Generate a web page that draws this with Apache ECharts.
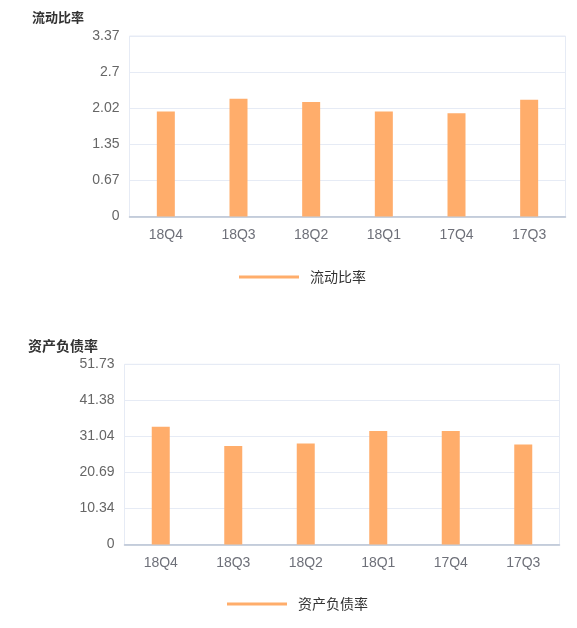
<!DOCTYPE html>
<html>
<head>
<meta charset="utf-8">
<script src="https://cdn.jsdelivr.net/npm/echarts@6/dist/echarts.min.js"></script>
<style>
html,body{margin:0;padding:0;background:#fff;}
#c{width:577px;height:628px;}
</style>
</head>
<body>
<div id="c"></div>
<script>
var categories = ['18Q4','18Q3','18Q2','18Q1','17Q4','17Q3'];
var currentRatio = [1.96, 2.20, 2.14, 1.96, 1.93, 2.18];
var debtRatio = [33.8, 28.3, 29.0, 32.6, 32.6, 28.7];
var yTicks1 = ['0','0.67','1.35','2.02','2.7','3.37'];
var yTicks2 = ['0','10.34','20.69','31.04','41.38','51.73'];
var max1 = 3.37, max2 = 51.73;
var name1 = '流动比率', name2 = '资产负债率';

var FONT = "Arial, 'Liberation Sans', 'Noto Sans CJK SC', sans-serif";
var CJK = "'Microsoft YaHei', 'Noto Sans CJK SC', sans-serif";
var barColor = '#ffad6b';

function yAxis(gi, max, ticks){
  var iv = max / 5;
  return {
    type:'value', gridIndex:gi, min:0, max:max, interval:iv,
    axisLine:{show:false}, axisTick:{show:false},
    splitLine:{lineStyle:{color:'#e6ebf5', width:1}},
    axisLabel:{color:'#666', fontSize:14, fontFamily:FONT, margin:10,
      formatter:function(v){ return ticks[Math.round(v/iv)]; }}
  };
}
function xAxis(gi){
  return {
    type:'category', gridIndex:gi, data:categories,
    axisLine:{lineStyle:{color:'#b8c2d2', width:1.5}},
    axisTick:{show:false},
    axisLabel:{color:'#6e7079', fontSize:14, fontFamily:FONT, margin:12}
  };
}
var chart = echarts.init(document.getElementById('c'));
chart.setOption({
  animation:false,
  title:[
    {text:name1, left:27, top:6, textStyle:{fontSize:13, fontWeight:'bold', color:'#333', fontFamily:CJK}},
    {text:name2, left:23, top:334, textStyle:{fontSize:14, fontWeight:'bold', color:'#333', fontFamily:CJK}}
  ],
  grid:[
    {left:129.5, top:36, width:436, height:180.5, show:true, borderColor:'#e6ebf5', borderWidth:1},
    {left:124.5, top:364.3, width:435, height:180.2, show:true, borderColor:'#e6ebf5', borderWidth:1}
  ],
  legend:[
    {data:[name1], left:234, top:265, icon:'rect', itemWidth:60, itemHeight:3, itemGap:10,
     textStyle:{fontSize:14, color:'#333', fontFamily:CJK, padding:[0,0,0,6]}},
    {data:[name2], left:222, top:592, icon:'rect', itemWidth:60, itemHeight:3, itemGap:10,
     textStyle:{fontSize:14, color:'#333', fontFamily:CJK, padding:[0,0,0,6]}}
  ],
  xAxis:[xAxis(0), xAxis(1)],
  yAxis:[yAxis(0, max1, yTicks1), yAxis(1, max2, yTicks2)],
  series:[
    {name:name1, type:'bar', xAxisIndex:0, yAxisIndex:0, data:currentRatio, barWidth:18, itemStyle:{color:barColor}},
    {name:name2, type:'bar', xAxisIndex:1, yAxisIndex:1, data:debtRatio, barWidth:18, itemStyle:{color:barColor}}
  ]
});
</script>
</body>
</html>
